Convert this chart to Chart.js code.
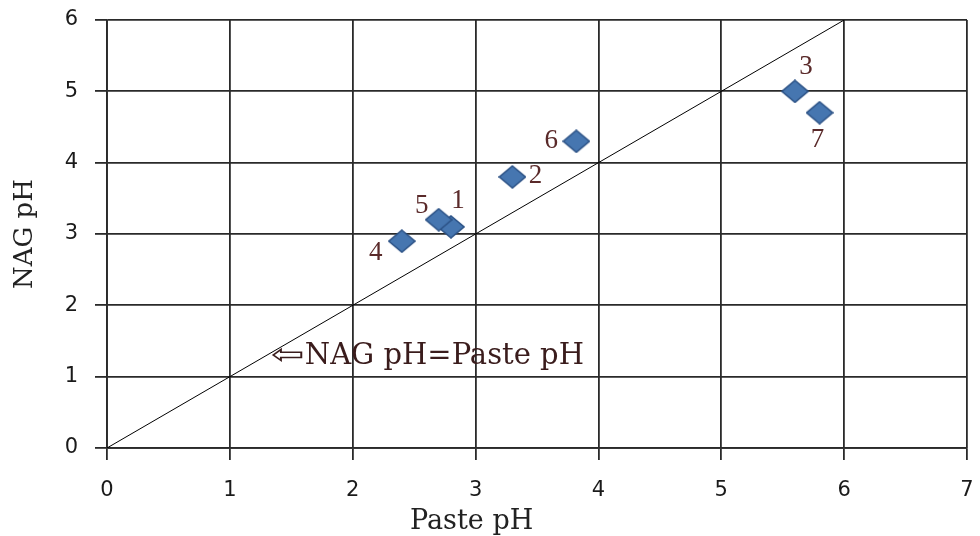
<!DOCTYPE html>
<html>
<head>
<meta charset="utf-8">
<script src="https://cdn.jsdelivr.net/npm/chart.js@4.4.0/dist/chart.umd.min.js"></script>
<style>
  html, body { margin: 0; padding: 0; background: #fff; }
  #wrap { width: 980px; height: 536px; }
</style>
</head>
<body>
<div id="wrap"><canvas id="myChart"></canvas></div>
<script>
// sample data
var sampleIds = ['1', '2', '3', '4', '5', '6', '7']
var pastePH = [2.8, 3.3, 5.6, 2.4, 2.7, 3.82, 5.8]
var nagPH = [3.1, 3.8, 5.0, 2.9, 3.2, 4.3, 4.7]
var lineX = [0, 6]
var lineY = [0, 6]
var xTicks = [0, 1, 2, 3, 4, 5, 6, 7]
var yTicks = [0, 1, 2, 3, 4, 5, 6]

// where each label sits relative to its marker
var labelSide = ['ne', 'e', 'n', 'sw', 'nw', 'w', 's']

var points = []
for (var i = 0; i < pastePH.length; i++) {
    points.push({x: pastePH[i], y: nagPH[i]})
}
var linePts = []
for (var i = 0; i < lineX.length; i++) {
    linePts.push({x: lineX[i], y: lineY[i]})
}

var labelColor = '#5a2a2a'
var offsets = {
    ne: [7, -26], e: [23, -1], n: [11, -24], sw: [-26, 12],
    nw: [-17, -14], w: [-25, 0], s: [-2, 27]
}

// slightly wide diamond, like the original markers
var diamond = document.createElement('canvas')
diamond.width = 28
diamond.height = 24
var dc = diamond.getContext('2d')
dc.beginPath()
dc.moveTo(14, 1)
dc.lineTo(27, 12)
dc.lineTo(14, 23)
dc.lineTo(1, 12)
dc.closePath()
dc.fillStyle = '#4676b0'
dc.fill()
dc.lineWidth = 1.5
dc.strokeStyle = '#2c5286'
dc.stroke()

var labelPlugin = {
    id: 'pointLabels',
    afterDatasetsDraw: function(chart) {
        var ctx = chart.ctx
        var meta = chart.getDatasetMeta(1)
        var xs = chart.scales.x, ys = chart.scales.y
        ctx.save()
        ctx.font = '27px "Liberation Serif", serif'
        ctx.fillStyle = labelColor
        ctx.textAlign = 'center'
        ctx.textBaseline = 'middle'
        meta.data.forEach(function(el, i) {
            var o = offsets[labelSide[i]]
            ctx.fillText(sampleIds[i], el.x + o[0], el.y + o[1])
        })

        // note for the 1:1 line, with a wide hollow arrow in front
        var tx = xs.getPixelForValue(1.61), ty = ys.getPixelForValue(1.18)
        ctx.textAlign = 'left'
        ctx.textBaseline = 'alphabetic'
        ctx.font = '29px "DejaVu Serif", serif'
        ctx.fillStyle = '#3a1c1c'
        ctx.fillText('NAG pH=Paste pH', tx, ty)
        ctx.save()
        ctx.translate(tx, ty)
        ctx.scale(1.4, 1)
        ctx.textAlign = 'right'
        ctx.font = '29px "DejaVu Sans", sans-serif'
        ctx.fillText('\u21E6', 0, 0)
        ctx.restore()

        // x axis title sits a bit left of centre in the original
        ctx.textAlign = 'center'
        ctx.textBaseline = 'middle'
        ctx.fillStyle = '#222'
        ctx.font = '27px "DejaVu Serif", serif'
        ctx.fillText('Paste pH', chart.chartArea.left + 0.424 * (chart.chartArea.right - chart.chartArea.left), 522)
        ctx.restore()
    }
}

var chart = new Chart(document.getElementById('myChart').getContext('2d'), {
    type: 'scatter',
    data: {
        datasets: [
            {
                type: 'line',
                data: linePts,
                borderColor: '#000',
                borderWidth: 1,
                pointRadius: 0,
                fill: false
            },
            {
                data: points,
                pointStyle: diamond,
                pointRadius: 12,
                pointHoverRadius: 12
            }
        ]
    },
    options: {
        responsive: true,
        maintainAspectRatio: false,
        animation: false,
        layout: {padding: {top: 20, right: 12, left: 0, bottom: 0}},
        plugins: {
            legend: {display: false},
            tooltip: {enabled: false}
        },
        scales: {
            x: {
                type: 'linear',
                min: 0, max: 7,
                afterBuildTicks: function(s) { s.ticks = xTicks.map(function(v) { return {value: v} }) },
                afterFit: function(s) { s.height = 88; s.paddingLeft = 0; s.paddingRight = 0 },
                grid: {color: '#2a2a2a', lineWidth: 1.8, tickLength: 12},
                border: {color: '#2a2a2a', width: 1.8},
                ticks: {color: '#1a1a1a', padding: 18, font: {family: 'DejaVu Sans', size: 21}}
            },
            y: {
                type: 'linear',
                min: 0, max: 6,
                afterBuildTicks: function(s) { s.ticks = yTicks.map(function(v) { return {value: v} }) },
                afterFit: function(s) { s.width = 107; s.paddingTop = 0; s.paddingBottom = 0 },
                grid: {color: '#2a2a2a', lineWidth: 1.8, tickLength: 12},
                border: {color: '#2a2a2a', width: 1.8},
                ticks: {color: '#1a1a1a', padding: 17, font: {family: 'DejaVu Sans', size: 21}},
                title: {display: true, text: 'NAG pH', color: '#222', padding: {top: 10, bottom: 0},
                    font: {family: 'DejaVu Serif', size: 26, lineHeight: 1.2}}
            }
        }
    },
    plugins: [labelPlugin]
})
</script>
</body>
</html>
